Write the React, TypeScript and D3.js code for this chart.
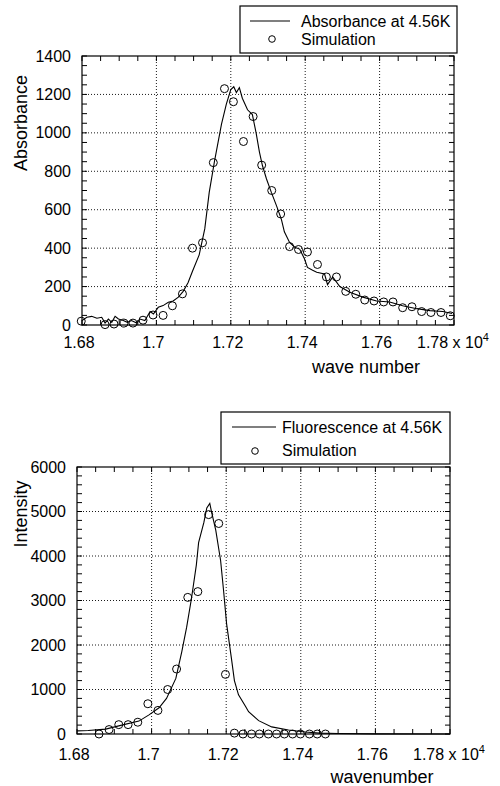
import React from "react";
import * as d3 from "d3";

// ---------- data ----------
const xTicks = [1.68, 1.7, 1.72, 1.74, 1.76, 1.78];
const xTickLabels = ["1.68", "1.7", "1.72", "1.74", "1.76", "1.78"];
const absYTicks = [0, 200, 400, 600, 800, 1000, 1200, 1400];
const fluYTicks = [0, 1000, 2000, 3000, 4000, 5000, 6000];

// Absorbance measured line [wave number (x10^4), absorbance]
const absorbanceLine: [number, number][] = [
  [1.68, 23], [1.6813, 40], [1.6826, 45], [1.684, 35], [1.6853, 40], [1.6862, 10],
  [1.6871, 31], [1.688, 14], [1.6889, 45], [1.6898, 31], [1.6911, 23], [1.6922, 14],
  [1.6933, 23], [1.6947, 10], [1.6956, 31], [1.6969, 23], [1.6983, 70], [1.6992, 57],
  [1.7005, 92], [1.7018, 101], [1.7032, 118], [1.7045, 125], [1.7059, 145], [1.7072, 175],
  [1.7085, 220], [1.7097, 280], [1.7115, 365], [1.713, 500], [1.7142, 690], [1.7156, 850],
  [1.7175, 1045], [1.7188, 1150], [1.72, 1225], [1.7208, 1240], [1.7215, 1210], [1.7223, 1235],
  [1.7231, 1180], [1.7245, 1120], [1.7258, 1095], [1.7268, 1000], [1.7277, 900], [1.7285, 830],
  [1.7296, 760], [1.7309, 690], [1.7323, 620], [1.7336, 550], [1.7344, 485], [1.7358, 430],
  [1.7372, 405], [1.7385, 395], [1.7398, 345], [1.7406, 300], [1.742, 285], [1.7431, 275],
  [1.7452, 265], [1.746, 210], [1.7474, 250], [1.7493, 200], [1.752, 170], [1.7555, 145],
  [1.7592, 125], [1.7627, 120], [1.7662, 100], [1.77, 85], [1.7735, 75], [1.777, 70],
  [1.7795, 60],
];

// Absorbance simulation points
const absorbanceSim: [number, number][] = [
  [1.6798, 20], [1.6862, 2], [1.6886, 5], [1.6913, 10], [1.6937, 10], [1.6964, 25],
  [1.6991, 52], [1.7018, 50], [1.7043, 100], [1.707, 162], [1.7097, 400], [1.7124, 428],
  [1.7153, 845], [1.7183, 1230], [1.7207, 1162], [1.7234, 955], [1.726, 1085], [1.7283, 832],
  [1.731, 700], [1.7334, 578], [1.7358, 408], [1.7382, 393], [1.7406, 380], [1.7433, 315],
  [1.7457, 250], [1.7484, 250], [1.7509, 175], [1.7536, 160], [1.756, 130], [1.7585, 125],
  [1.7611, 120], [1.7636, 120], [1.7662, 90], [1.7687, 95], [1.7713, 70], [1.7738, 65],
  [1.7765, 65], [1.779, 48],
];

// Fluorescence measured line [wavenumber (x10^4), intensity]
const fluorescenceLine: [number, number][] = [
  [1.68, 70], [1.683, 80], [1.6877, 110], [1.692, 200], [1.6966, 290], [1.6993, 430],
  [1.702, 590], [1.704, 800], [1.7065, 1250], [1.7081, 1850], [1.7094, 2400], [1.7107, 3050],
  [1.712, 3800], [1.7126, 4300], [1.714, 4750], [1.7148, 5080], [1.7156, 5180], [1.7161, 4980],
  [1.7172, 4580], [1.7185, 3900], [1.7193, 3220], [1.7201, 2480], [1.7214, 1700], [1.7222, 1200],
  [1.7233, 880], [1.7252, 620], [1.726, 500], [1.7287, 300], [1.7322, 160], [1.7367, 90],
  [1.7412, 45], [1.745, 20], [1.75, 10], [1.76, 3], [1.78, 0],
];

// Fluorescence simulation points
const fluorescenceSim: [number, number][] = [
  [1.6859, 0], [1.6886, 100], [1.6912, 210], [1.6937, 210], [1.6963, 265], [1.699, 680],
  [1.7017, 530], [1.7043, 1000], [1.7067, 1460], [1.7097, 3070], [1.7124, 3200], [1.7153, 4930],
  [1.718, 4730], [1.7198, 1340], [1.7222, 20], [1.7245, 0], [1.7268, 0], [1.7289, 0],
  [1.7313, 0], [1.7335, 0], [1.7356, 0], [1.7378, 0], [1.7399, 0], [1.7423, 0],
  [1.7444, 0], [1.7466, 0],
];

const FONT = "'Liberation Sans', Arial, Helvetica, sans-serif";

type PanelProps = {
  left: number; right: number; top: number; bottom: number;
  yTicks: number[]; yMinorStep: number; yMax: number;
  line: [number, number][]; sim: [number, number][];
  yLabel: string; yLabelCenter: number;
  xLabel: string; xLabelX: number; xLabelY: number; tickLabelDy: number;
  legend: { x: number; y: number; w: number; h: number; lineX1: number; lineX2: number; lineY: number; textX: number; text1Y: number; text2Y: number; circX: number; circY: number; text: string };
};

function Panel(p: PanelProps) {
  const x = d3.scaleLinear().domain([1.68, 1.78]).range([p.left, p.right]);
  const y = d3.scaleLinear().domain([0, p.yMax]).range([p.bottom, p.top]);
  const lineGen = d3.line<[number, number]>().x((d) => x(d[0])).y((d) => y(d[1]));
  const xMinor = d3.range(1.68, 1.7801, 0.005);
  const yMinor = d3.range(0, p.yMax + 0.001, p.yMinorStep);
  const tl = 5;
  const L = p.legend;
  return (
    <g>
      {/* grid */}
      {xTicks.slice(1, -1).map((t) => (
        <line key={"gx" + t} x1={x(t)} x2={x(t)} y1={p.top} y2={p.bottom} stroke="#000" strokeWidth={0.9} strokeDasharray="1,2" />
      ))}
      {p.yTicks.slice(1, -1).map((t) => (
        <line key={"gy" + t} x1={p.left} x2={p.right} y1={y(t)} y2={y(t)} stroke="#000" strokeWidth={0.9} strokeDasharray="1,2" />
      ))}
      {/* minor ticks */}
      {xMinor.map((t, i) => (
        <g key={"xm" + i}>
          <line x1={x(t)} x2={x(t)} y1={p.bottom} y2={p.bottom - tl} stroke="#000" strokeWidth={1} />
          <line x1={x(t)} x2={x(t)} y1={p.top} y2={p.top + tl} stroke="#000" strokeWidth={1} />
        </g>
      ))}
      {yMinor.map((t, i) => (
        <g key={"ym" + i}>
          <line x1={p.left} x2={p.left + tl} y1={y(t)} y2={y(t)} stroke="#000" strokeWidth={1} />
          <line x1={p.right} x2={p.right - tl} y1={y(t)} y2={y(t)} stroke="#000" strokeWidth={1} />
        </g>
      ))}
      {/* frame */}
      <rect x={p.left} y={p.top} width={p.right - p.left} height={p.bottom - p.top} fill="none" stroke="#000" strokeWidth={1.2} />
      {/* data */}
      <path d={lineGen(p.line) || ""} fill="none" stroke="#000" strokeWidth={1.1} />
      {p.sim.map((d, i) => (
        <circle key={"c" + i} cx={x(d[0])} cy={y(d[1])} r={4} fill="none" stroke="#000" strokeWidth={1} />
      ))}
      {/* tick labels */}
      {xTicks.map((t, i) =>
        i < xTicks.length - 1 ? (
          <text key={"xl" + t} x={x(t) - 3} y={p.bottom + p.tickLabelDy} textAnchor="middle" fontSize={16} fontFamily={FONT}>{xTickLabels[i]}</text>
        ) : (
          <text key={"xl" + t} x={x(t) - 37} y={p.bottom + p.tickLabelDy} textAnchor="start" fontSize={16} fontFamily={FONT}>
            {xTickLabels[i] + " x 10"}
            <tspan fontSize={11} dy={-7}>4</tspan>
          </text>
        )
      )}
      {p.yTicks.map((t) => (
        <text key={"yl" + t} x={p.left - 11} y={y(t)} dy="0.35em" textAnchor="end" fontSize={16} fontFamily={FONT}>{t}</text>
      ))}
      {/* axis labels */}
      <text transform={`translate(27,${p.yLabelCenter}) rotate(-90)`} textAnchor="middle" fontSize={18} fontFamily={FONT}>{p.yLabel}</text>
      <text x={p.xLabelX} y={p.xLabelY} textAnchor="middle" fontSize={18} fontFamily={FONT}>{p.xLabel}</text>
      {/* legend */}
      <rect x={L.x} y={L.y} width={L.w} height={L.h} fill="#fff" stroke="#000" strokeWidth={1.2} />
      <line x1={L.lineX1} x2={L.lineX2} y1={L.lineY} y2={L.lineY} stroke="#000" strokeWidth={1.1} />
      <text x={L.textX} y={L.text1Y} fontSize={16} fontFamily={FONT}>{L.text}</text>
      <circle cx={L.circX} cy={L.circY} r={3.3} fill="none" stroke="#000" strokeWidth={1} />
      <text x={L.textX} y={L.text2Y} fontSize={16} fontFamily={FONT}>Simulation</text>
    </g>
  );
}

export default function App() {
  return (
    <svg width={500} height={786} style={{ position: "absolute", left: 0, top: 0, background: "#fff" }}>
      <rect x={0} y={0} width={500} height={786} fill="#fff" />
      <Panel
        left={82} right={454} top={56} bottom={325}
        yTicks={absYTicks} yMinorStep={50} yMax={1400}
        line={absorbanceLine} sim={absorbanceSim}
        yLabel="Absorbance" yLabelCenter={123}
        xLabel="wave number" xLabelX={366} xLabelY={373} tickLabelDy={23}
        legend={{ x: 240, y: 6, w: 217, h: 47, lineX1: 250, lineX2: 290, lineY: 21, textX: 301, text1Y: 27, text2Y: 45, circX: 272, circY: 39, text: "Absorbance at 4.56K" }}
      />
      <Panel
        left={77} right={450} top={467} bottom={734}
        yTicks={fluYTicks} yMinorStep={200} yMax={6000}
        line={fluorescenceLine} sim={fluorescenceSim}
        yLabel="Intensity" yLabelCenter={514}
        xLabel="wavenumber" xLabelX={382} xLabelY={783} tickLabelDy={26}
        legend={{ x: 221, y: 412, w: 229, h: 52, lineX1: 232, lineX2: 276, lineY: 427, textX: 282, text1Y: 433, text2Y: 456, circX: 255, circY: 451, text: "Fluorescence at 4.56K" }}
      />
    </svg>
  );
}
